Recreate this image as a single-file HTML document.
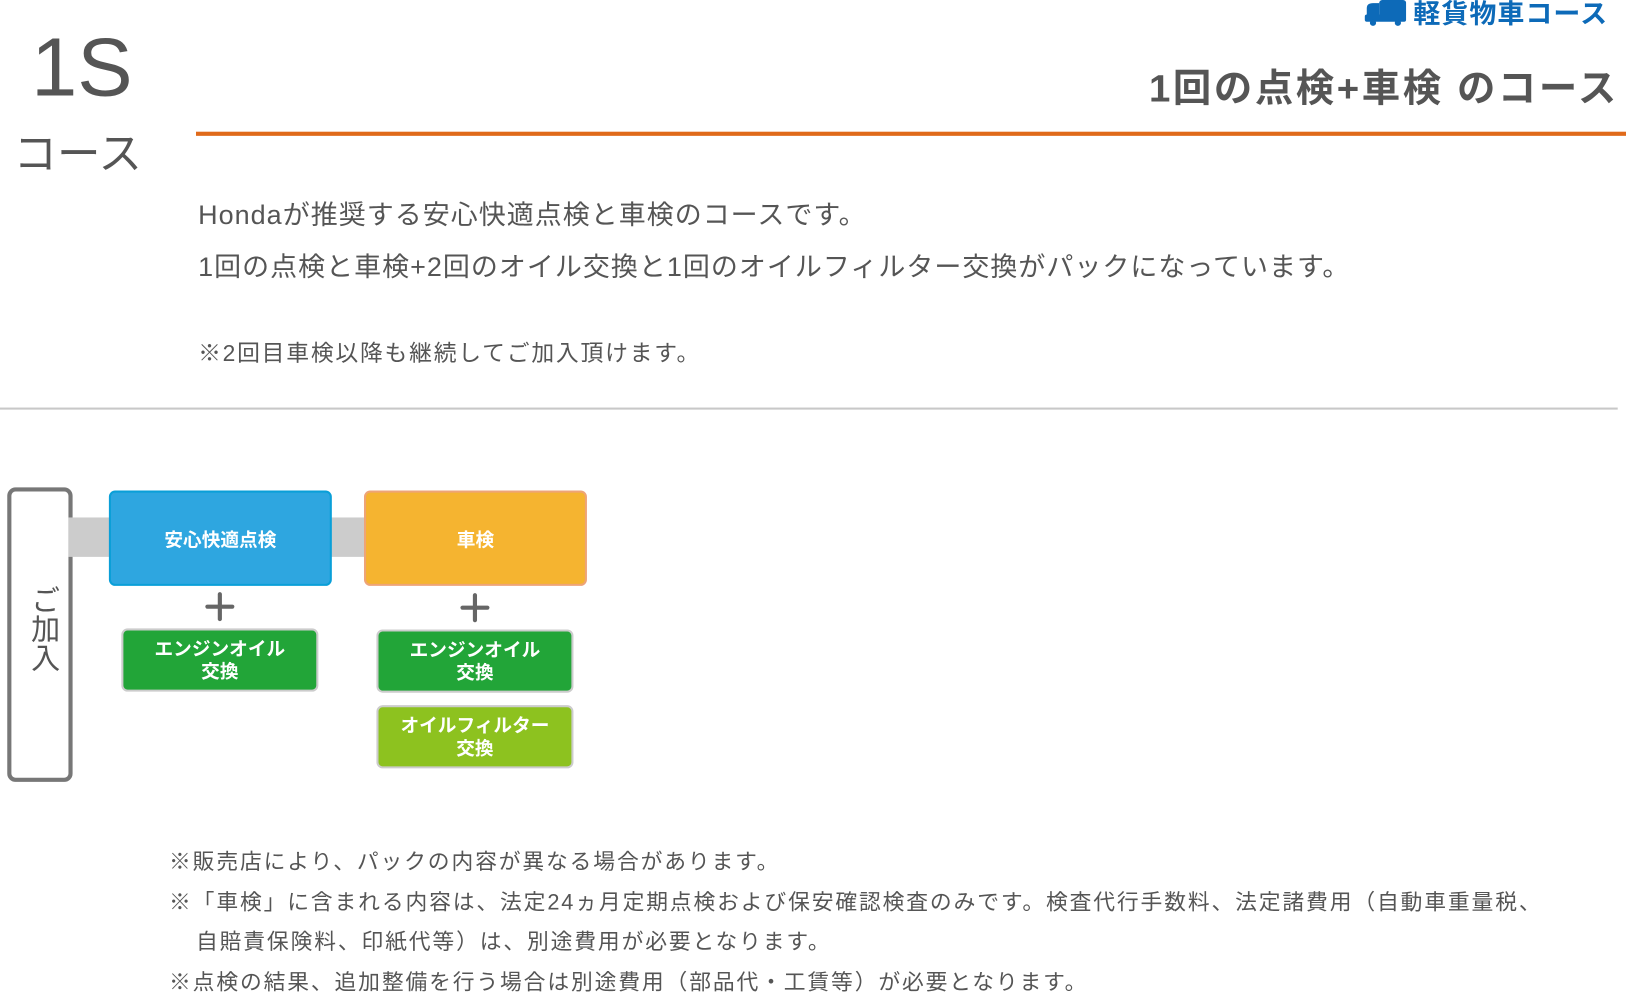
<!DOCTYPE html>
<html><head><meta charset="utf-8"><style>
body{margin:0;width:1626px;height:997px;background:#fff;position:relative;overflow:hidden;font-family:"Liberation Sans","Noto Sans CJK JP",sans-serif;color:#555}
#w{position:absolute;left:0;top:0;width:1568px;height:962px;transform:scale(1.037);transform-origin:0 0}
.a{position:absolute;white-space:nowrap}
.box{position:absolute;box-sizing:border-box;display:flex;align-items:center;justify-content:center;text-align:center;color:#fff;font-weight:bold;font-size:18px;line-height:22px;border-radius:6px}
.plus{position:absolute;width:28px;height:28px}
.plus:before{content:"";position:absolute;left:12px;top:0;width:4px;height:28px;background:#666;border-radius:2px}
.plus:after{content:"";position:absolute;left:0;top:12px;width:28px;height:4px;background:#666;border-radius:2px}
</style></head><body><div id="w">
<div class="a" style="left:30px;top:20px;font-size:80px;font-weight:300;color:#555;line-height:90px">1S</div>
<div class="a" style="left:13px;top:115px;font-size:42px;color:#555">コース</div>
<svg class="a" style="left:1316px;top:0" width="40" height="26" viewBox="0 0 40 26"><rect x="14" y="0" width="26" height="18" rx="3" fill="#0d6ab8"/><path d="M2 8 Q2 3 8 3 L14 3 L14 20 L2 20 Z" fill="#0d6ab8"/><rect x="0" y="14" width="40" height="7" rx="2" fill="#0d6ab8"/><circle cx="8" cy="22" r="3" fill="#0d6ab8"/><circle cx="32" cy="22" r="3" fill="#0d6ab8"/></svg>
<div class="a" style="left:1363px;top:-7px;font-size:26px;color:#0d6ab8;font-weight:bold;letter-spacing:1px">軽貨物車コース</div>
<div class="a" style="left:1108px;top:55px;font-size:37px;font-weight:bold;color:#555;letter-spacing:2.5px">1回の点検+車検 のコース</div>
<div class="a" style="left:189px;top:127px;width:1379px;height:4px;background:#e06a1a"></div>
<div class="a" style="left:191px;top:190px;font-size:26px;letter-spacing:1px;line-height:34px">Hondaが推奨する安心快適点検と車検のコースです。</div>
<div class="a" style="left:191px;top:240px;font-size:26px;letter-spacing:1px;line-height:34px">1回の点検と車検+2回のオイル交換と1回のオイルフィルター交換がパックになっています。</div>
<div class="a" style="left:191px;top:326px;font-size:22px;line-height:30px;letter-spacing:1.7px">※2回目車検以降も継続してご加入頂けます。</div>
<div class="a" style="left:0;top:393px;width:1560px;height:2px;background:#c8c8c8"></div>

<div class="a" style="left:7px;top:470px;width:63px;height:284px;box-sizing:border-box;border:4px solid #777;border-radius:8px;background:#fff"></div>
<div class="a" style="left:22px;top:564px;font-size:28px;writing-mode:vertical-rl;color:#555">ご加入</div>
<div class="a" style="left:66px;top:499px;width:290px;height:38px;background:#ccc"></div>
<div class="box" style="left:105px;top:473px;width:215px;height:92px;background:#2ea6e0;border:2px solid #0a9fd8;padding-top:4px">安心快適点検</div>
<div class="box" style="left:351px;top:473px;width:215px;height:92px;background:#f5b430;border:2px solid #eea477;padding-top:4px">車検</div>
<div class="plus" style="left:198px;top:571px"></div>
<div class="plus" style="left:444px;top:572px"></div>
<div class="box" style="left:117px;top:606px;width:190px;height:61px;background:#22a538;border:2px solid #ccc">エンジンオイル<br>交換</div>
<div class="box" style="left:363px;top:607px;width:190px;height:61px;background:#22a538;border:2px solid #ccc">エンジンオイル<br>交換</div>
<div class="box" style="left:363px;top:680px;width:190px;height:61px;background:#8dc21f;border:2px solid #ccc">オイルフィルター<br>交換</div>

<div class="a" style="left:163px;top:817px;font-size:21px;line-height:30px;letter-spacing:1.8px">※販売店により、パックの内容が異なる場合があります。</div>
<div class="a" style="left:163px;top:856px;font-size:21px;line-height:30px;letter-spacing:1.8px">※「車検」に含まれる内容は、法定24ヵ月定期点検および保安確認検査のみです。検査代行手数料、法定諸費用（自動車重量税、</div>
<div class="a" style="left:189px;top:894px;font-size:21px;line-height:30px;letter-spacing:1.8px">自賠責保険料、印紙代等）は、別途費用が必要となります。</div>
<div class="a" style="left:163px;top:933px;font-size:21px;line-height:30px;letter-spacing:1.8px">※点検の結果、追加整備を行う場合は別途費用（部品代・工賃等）が必要となります。</div>
</div></body></html>
